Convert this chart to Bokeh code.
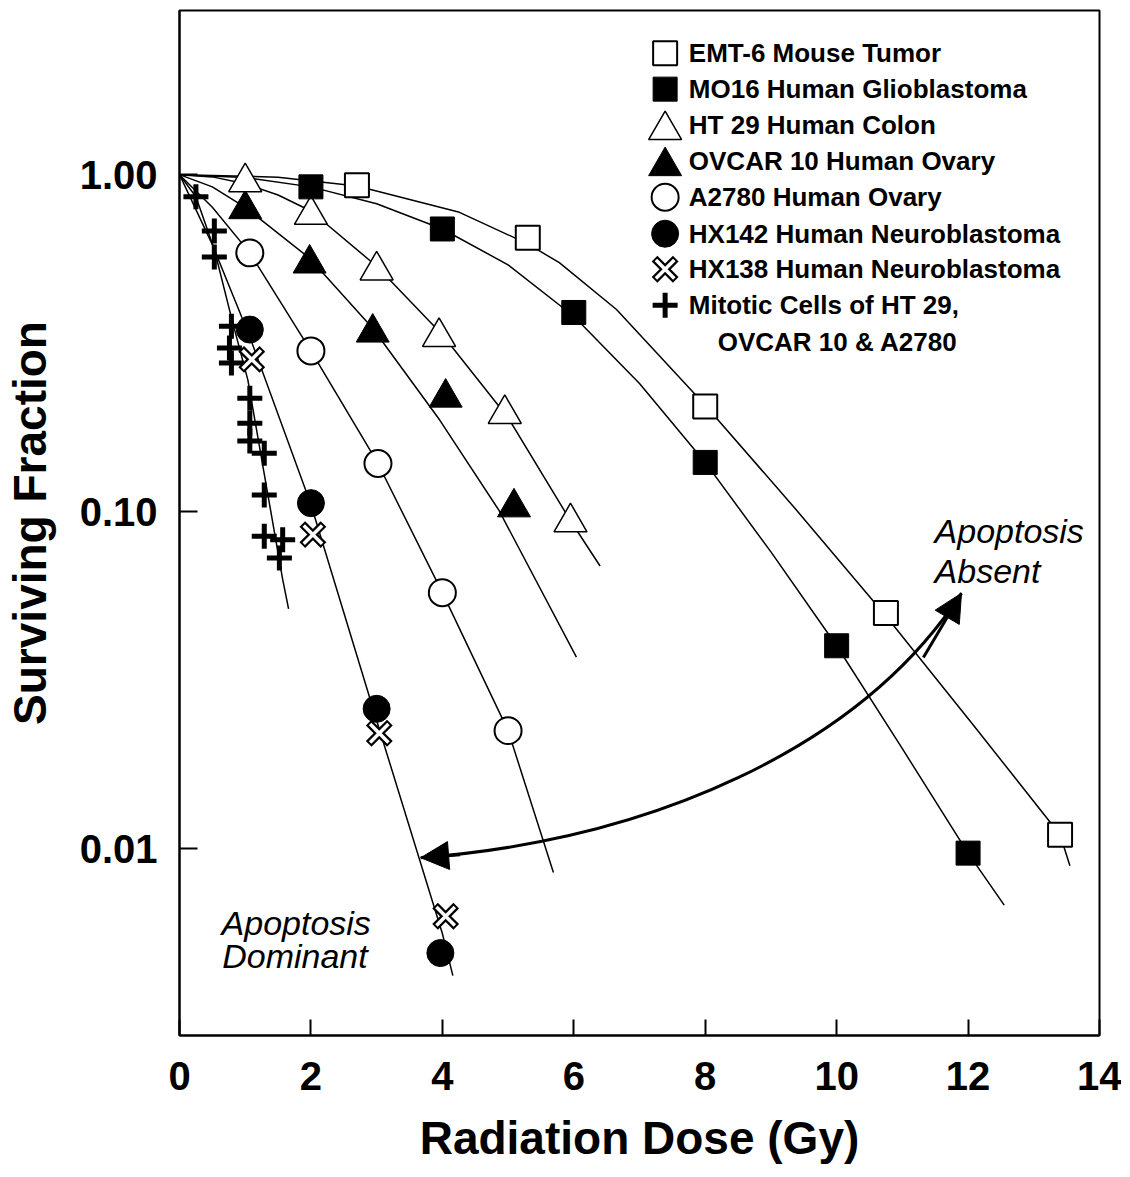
from bokeh.plotting import figure
from bokeh.models import (Range1d, FixedTicker, PrintfTickFormatter, Label, Arrow, NormalHead)
from bokeh.embed import file_html
from bokeh.resources import INLINE

FONT = "Liberation Sans"

# ---------------- data ----------------
x_ticks = [0, 2, 4, 6, 8, 10, 12, 14]
y_ticks = [0.01, 0.1, 1.0]

# measured points
emt6_dose = [2.7, 5.3, 8.0, 10.75, 13.4]
emt6_sf = [0.93, 0.65, 0.205, 0.050, 0.011]
mo16_dose = [2.0, 4.0, 6.0, 8.0, 10.0, 12.0]
mo16_sf = [0.92, 0.69, 0.39, 0.14, 0.040, 0.0097]
ht29_dose = [1.0, 2.0, 3.0, 3.95, 4.95, 5.95]
ht29_sf = [0.95, 0.76, 0.52, 0.33, 0.195, 0.093]
ovcar_dose = [1.0, 1.98, 2.94, 4.05, 5.09]
ovcar_sf = [0.79, 0.545, 0.34, 0.218, 0.103]
a2780_dose = [1.07, 2.0, 3.02, 4.0, 5.0]
a2780_sf = [0.586, 0.30, 0.139, 0.0575, 0.0224]
hx142_dose = [1.07, 2.0, 3.0, 3.97]
hx142_sf = [0.347, 0.106, 0.026, 0.0049]
hx138_dose = [1.1, 2.03, 3.04, 4.05]
hx138_sf = [0.283, 0.0855, 0.022, 0.0063]
mito_dose = [0.25, 0.53, 0.53, 0.79, 0.76, 0.79, 1.07, 1.07, 1.07, 1.29, 1.29, 1.29, 1.57, 1.52]
mito_sf = [0.86, 0.68, 0.57, 0.355, 0.306, 0.276, 0.217, 0.183, 0.162, 0.149, 0.112, 0.0845, 0.0826, 0.0729]

# fitted survival curves (vertices)
emt6_curve_dose = [0, 1.5, 2.7, 4.26, 5.3, 5.78, 6.65, 8.0, 9.4, 10.75, 12.07, 13.4, 13.55]
emt6_curve_sf = [1.0, 0.983, 0.925, 0.773, 0.623, 0.548, 0.398, 0.207, 0.1005, 0.049, 0.0234, 0.011, 0.0089]
mo16_curve_dose = [0, 1.0, 2.0, 3.0, 4.0, 5.0, 6.0, 7.0, 8.0, 9.0, 10.0, 11.0, 12.0, 12.55]
mo16_curve_sf = [1.0, 0.98, 0.92, 0.82, 0.69, 0.54, 0.38, 0.24, 0.14, 0.076, 0.040, 0.0198, 0.0097, 0.0068]
ht29_curve_dose = [0, 0.5, 1.0, 1.5, 2.0, 3.0, 4.0, 5.0, 5.95, 6.4]
ht29_curve_sf = [1.0, 0.985, 0.94, 0.87, 0.78, 0.535, 0.335, 0.19, 0.094, 0.069]
ovcar_curve_dose = [0, 0.5, 1.0, 1.98, 2.94, 3.96, 4.86, 6.04]
ovcar_curve_sf = [1.0, 0.92, 0.80, 0.565, 0.35, 0.187, 0.101, 0.037]
a2780_curve_dose = [0, 0.5, 1.07, 2.0, 3.02, 4.0, 5.0, 5.69]
a2780_curve_sf = [1.0, 0.80, 0.586, 0.30, 0.139, 0.0575, 0.0224, 0.0085]
hx_curve_dose = [0, 0.5, 1.07, 2.0, 3.0, 4.0, 4.16]
hx_curve_sf = [1.0, 0.62, 0.33, 0.105, 0.024, 0.0056, 0.0042]
mito_curve_dose = [0, 0.25, 0.53, 0.8, 1.04, 1.3, 1.57, 1.66]
mito_curve_sf = [1.0, 0.86, 0.60, 0.37, 0.246, 0.126, 0.063, 0.0515]

# legend (drawn inside the plot frame, positions in data units)
legend_labels = ["EMT-6 Mouse Tumor", "MO16 Human Glioblastoma", "HT 29 Human Colon",
                 "OVCAR 10 Human Ovary", "A2780 Human Ovary", "HX142 Human Neuroblastoma",
                 "HX138 Human Neuroblastoma", "Mitotic Cells of HT 29,", "OVCAR 10 & A2780"]
legend_label_dose = [7.75, 7.75, 7.75, 7.75, 7.75, 7.75, 7.75, 7.75, 8.19]
legend_label_sf = [2.292, 1.794, 1.403, 1.097, 0.857, 0.668, 0.524, 0.410, 0.3195]
legend_marker_dose = 7.39
legend_marker_sf = [2.292, 1.794, 1.356, 1.06, 0.857, 0.668, 0.524, 0.410]

# annotations
note_text = ["Apoptosis", "Dominant", "Apoptosis", "Absent"]
note_dose = [0.64, 0.65, 11.49, 11.49]
note_sf = [0.00603, 0.00481, 0.0878, 0.0668]

arrow_dose = [3.67, 7.15, 10.35, 11.9]      # start, ctrl1, ctrl2, end
arrow_sf = [0.0094, 0.0106, 0.0197, 0.0573]
head_left_from = (4.27, 0.0096)
head_right_from = (11.32, 0.0369)

# ---------------- figure ----------------
p = figure(width=1121, height=1175, x_range=Range1d(0, 14), y_range=Range1d(0.00279, 3.07),
           y_axis_type="log", output_backend="svg", toolbar_location=None,
           min_border_left=179, min_border_right=22, min_border_top=10, min_border_bottom=140,
           background_fill_color="white", border_fill_color="white")
p.grid.visible = False
p.outline_line_color = "black"
p.outline_line_width = 2

for ax in (p.xaxis[0], p.yaxis[0]):
    ax.axis_line_width = 2
    ax.axis_line_color = "black"
    ax.major_tick_line_width = 2
    ax.major_tick_line_color = "black"
    ax.major_tick_out = 0
    ax.minor_tick_line_color = None
    ax.major_label_text_font = FONT
    ax.major_label_text_font_style = "bold"
    ax.major_label_text_font_size = "40px"
    ax.major_label_text_color = "black"
    ax.axis_label_text_font = FONT
    ax.axis_label_text_font_style = "bold"
    ax.axis_label_text_font_size = "46px"
    ax.axis_label_text_color = "black"

xa = p.xaxis[0]
xa.ticker = FixedTicker(ticks=x_ticks)
xa.major_tick_in = 16
xa.major_label_standoff = 26
xa.axis_label = "Radiation Dose (Gy)"
xa.axis_label_standoff = 19

ya = p.yaxis[0]
ya.ticker = FixedTicker(ticks=y_ticks)
ya.formatter = PrintfTickFormatter(format="%.2f")
ya.major_tick_in = 18
ya.major_label_standoff = 22
ya.axis_label = "Surviving Fraction"
ya.axis_label_standoff = 21

# curves
for cx, cy in [(emt6_curve_dose, emt6_curve_sf), (mo16_curve_dose, mo16_curve_sf),
               (ht29_curve_dose, ht29_curve_sf), (ovcar_curve_dose, ovcar_curve_sf),
               (a2780_curve_dose, a2780_curve_sf), (hx_curve_dose, hx_curve_sf),
               (mito_curve_dose, mito_curve_sf)]:
    p.line(cx, cy, line_color="black", line_width=1.5)

# curved double arrow
p.bezier(x0=[arrow_dose[0]], y0=[arrow_sf[0]], x1=[arrow_dose[3]], y1=[arrow_sf[3]],
         cx0=[arrow_dose[1]], cy0=[arrow_sf[1]], cx1=[arrow_dose[2]], cy1=[arrow_sf[2]],
         line_color="black", line_width=3)
p.add_layout(Arrow(end=NormalHead(size=28, fill_color="black", line_color="black"),
                   x_start=head_left_from[0], y_start=head_left_from[1],
                   x_end=arrow_dose[0], y_end=arrow_sf[0], line_width=3, line_color="black"))
p.add_layout(Arrow(end=NormalHead(size=28, fill_color="black", line_color="black"),
                   x_start=head_right_from[0], y_start=head_right_from[1],
                   x_end=arrow_dose[3], y_end=arrow_sf[3], line_width=3, line_color="black"))


def draw_series(xs, ys, kind):
    if kind == "open_square":
        p.scatter(xs, ys, marker="square", size=24, fill_color="white", line_color="black", line_width=2)
    elif kind == "filled_square":
        p.scatter(xs, ys, marker="square", size=24, fill_color="black", line_color="black", line_width=1)
    elif kind == "open_triangle":
        p.scatter(xs, ys, marker="triangle", size=33, fill_color="white", line_color="black", line_width=1.5)
    elif kind == "filled_triangle":
        p.scatter(xs, ys, marker="triangle", size=33, fill_color="black", line_color="black", line_width=1)
    elif kind == "open_circle":
        p.scatter(xs, ys, marker="circle", size=27, fill_color="white", line_color="black", line_width=2)
    elif kind == "filled_circle":
        p.scatter(xs, ys, marker="circle", size=27, fill_color="black", line_color="black", line_width=1)
    elif kind == "outlined_x":
        p.scatter(xs, ys, marker="x", size=30, line_color="black", line_width=8)
        p.scatter(xs, ys, marker="x", size=26, line_color="white", line_width=3.5)
    elif kind == "cross":
        p.scatter(xs, ys, marker="cross", size=25, line_color="black", line_width=5)


# markers (data)
series = [(mito_dose, mito_sf, "cross"), (hx138_dose, hx138_sf, "outlined_x"),
          (hx142_dose, hx142_sf, "filled_circle"), (a2780_dose, a2780_sf, "open_circle"),
          (ovcar_dose, ovcar_sf, "filled_triangle"), (ht29_dose, ht29_sf, "open_triangle"),
          (mo16_dose, mo16_sf, "filled_square"), (emt6_dose, emt6_sf, "open_square")]
for xs, ys, kind in series:
    draw_series(xs, ys, kind)

# legend markers
legend_kinds = ["open_square", "filled_square", "open_triangle", "filled_triangle",
                "open_circle", "filled_circle", "outlined_x", "cross"]
for kind, yv in zip(legend_kinds, legend_marker_sf):
    draw_series([legend_marker_dose], [yv], kind)

# legend texts
for t, xv, yv in zip(legend_labels, legend_label_dose, legend_label_sf):
    p.add_layout(Label(x=xv, y=yv, text=t, text_font=FONT, text_font_style="bold",
                       text_font_size="26px", text_color="black", text_align="left",
                       text_baseline="middle"))

# annotation texts
for t, xv, yv in zip(note_text, note_dose, note_sf):
    p.add_layout(Label(x=xv, y=yv, text=t, text_font=FONT, text_font_style="italic",
                       text_font_size="34px", text_color="black", text_align="left",
                       text_baseline="alphabetic"))

open("out.html", "w").write(file_html(p, INLINE))
